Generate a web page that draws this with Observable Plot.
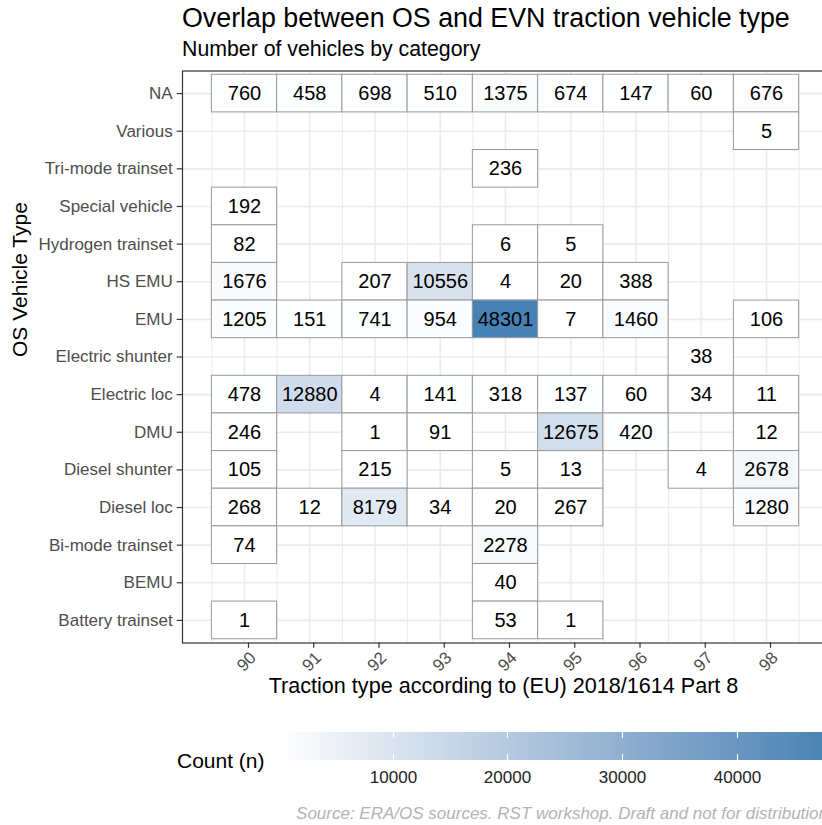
<!DOCTYPE html>
<html>
<head>
<meta charset="utf-8">
<script src="https://cdn.jsdelivr.net/npm/d3@7"></script>
<script src="https://cdn.jsdelivr.net/npm/@observablehq/plot@0.6"></script>
<style>
html, body { margin: 0; padding: 0; background: #fff; overflow: hidden; }
#wrap { position: relative; width: 822px; height: 825px; overflow: hidden; background: #fff;
  font-family: "Liberation Sans", Arial, Helvetica, sans-serif; }
#wrap svg { max-width: none !important; }
.abs { position: absolute; white-space: nowrap; line-height: 1; }
#title { left: 182px; top: 4.5px; font-size: 26.8px; color: #000; }
#subtitle { left: 182px; top: 39px; font-size: 21.3px; color: #000; }
#main { position: absolute; left: 0; top: 0; }
#legtitle { left: 177px; top: 750px; font-size: 21px; color: #000; }
#legend { position: absolute; left: 278px; top: 732px; width: 560px; }
#legend svg { font: 17px "Liberation Sans", Arial, sans-serif; color: #222; overflow: visible; }
#legend svg .tick line { stroke: #fff; stroke-width: 1.2; stroke-dasharray: 6 16 6 100; }
#caption { right: -6px; top: 805px; font-size: 17px; font-style: italic; color: #b3b3b3; }
</style>
</head>
<body>
<div id="wrap">
  <div id="main"></div>
  <div id="title" class="abs">Overlap between OS and EVN traction vehicle type</div>
  <div id="subtitle" class="abs">Number of vehicles by category</div>
  <div id="legtitle" class="abs">Count (n)</div>
  <div id="legend"></div>
  <div id="caption" class="abs">Source: ERA/OS sources. RST workshop. Draft and not for distribution</div>
</div>
<script>
// Rows (top to bottom) and traction type codes (columns)
const categories = ["NA", "Various", "Tri-mode trainset", "Special vehicle", "Hydrogen trainset",
  "HS EMU", "EMU", "Electric shunter", "Electric loc", "DMU", "Diesel shunter", "Diesel loc",
  "Bi-mode trainset", "BEMU", "Battery trainset"];
const tractionCodes = [90, 91, 92, 93, 94, 95, 96, 97, 98];

// Counts per category, one entry per traction code (null = no vehicles)
const cNA              = [760, 458, 698, 510, 1375, 674, 147, 60, 676];
const cVarious         = [null, null, null, null, null, null, null, null, 5];
const cTriMode         = [null, null, null, null, 236, null, null, null, null];
const cSpecial         = [192, null, null, null, null, null, null, null, null];
const cHydrogen        = [82, null, null, null, 6, 5, null, null, null];
const cHSEMU           = [1676, null, 207, 10556, 4, 20, 388, null, null];
const cEMU             = [1205, 151, 741, 954, 48301, 7, 1460, null, 106];
const cElecShunter     = [null, null, null, null, null, null, null, 38, null];
const cElecLoc         = [478, 12880, 4, 141, 318, 137, 60, 34, 11];
const cDMU             = [246, null, 1, 91, null, 12675, 420, null, 12];
const cDieselShunter   = [105, null, 215, null, 5, 13, null, 4, 2678];
const cDieselLoc       = [268, 12, 8179, 34, 20, 267, null, null, 1280];
const cBiMode          = [74, null, null, null, 2278, null, null, null, null];
const cBEMU            = [null, null, null, null, 40, null, null, null, null];
const cBattery         = [1, null, null, null, 53, 1, null, null, null];

const countsByCategory = [cNA, cVarious, cTriMode, cSpecial, cHydrogen, cHSEMU, cEMU,
  cElecShunter, cElecLoc, cDMU, cDieselShunter, cDieselLoc, cBiMode, cBEMU, cBattery];

const legendTicks = [10000, 20000, 30000, 40000];

const xTitle = "Traction type according to (EU) 2018/1614 Part 8";
const yTitle = "OS Vehicle Type";

// Long-form table
const cells = [];
categories.forEach((cat, i) => {
  countsByCategory[i].forEach((n, j) => {
    if (n != null) cells.push({category: cat, code: tractionCodes[j], n});
  });
});

const minorTicks = tractionCodes.map(c => c - 0.5).concat([tractionCodes[tractionCodes.length - 1] + 0.5]);
const xLo = tractionCodes[0] - 0.5, xHi = tractionCodes[tractionCodes.length - 1] + 0.5;
const xPad = (xHi - xLo) * 0.05;

const colorOpts = {
  type: "linear",
  domain: d3.extent(cells, d => d.n),
  range: ["white", "steelblue"],
  interpolate: "lab"
};

const W = 840, H = 712, panelTop = 70.5, panelBottom = 642.5;

const chart = Plot.plot({
  width: W, height: H,
  marginLeft: 182, marginRight: 12, marginTop: panelTop, marginBottom: H - panelBottom,
  style: {fontFamily: "'Liberation Sans', Arial, sans-serif", background: "white", overflow: "visible", maxWidth: "none"},
  x: {domain: [xLo - xPad, xHi + xPad]},
  y: {type: "band", domain: categories, paddingInner: 0, paddingOuter: 0.1, round: false},
  color: colorOpts,
  marks: [
    Plot.gridX(minorTicks, {stroke: "#ebebeb", strokeOpacity: 1, strokeWidth: 1}),
    Plot.gridX(tractionCodes, {stroke: "#ebebeb", strokeOpacity: 1, strokeWidth: 1.6}),
    Plot.gridY({stroke: "#ebebeb", strokeOpacity: 1, strokeWidth: 1.6}),
    Plot.barX(cells, {x1: d => d.code - 0.5, x2: d => d.code + 0.5, y: "category",
      fill: "n", stroke: "#999", strokeWidth: 1, inset: 0}),
    Plot.text(cells, {x: "code", y: "category", text: d => String(d.n), fontSize: 20, fill: "#000"}),
    Plot.frame({stroke: "#333", strokeWidth: 1.2}),
    Plot.axisY({tickSize: 5.3, tickPadding: 4.5, fontSize: 17, fill: "#4d4d4d", stroke: "#333",
      strokeWidth: 1.2, label: null}),
    Plot.axisX({ticks: tractionCodes, tickFormat: d => String(d), tickSize: 5.3, tickPadding: 2,
      tickRotate: -45, textAnchor: "end", lineAnchor: "top", dx: 4, fontSize: 17,
      fill: "#4d4d4d", stroke: "#333", strokeWidth: 1.2, label: null}),
    Plot.text([xTitle], {frameAnchor: "bottom", dy: 50, dx: -2, fontSize: 21.6, fill: "#000"}),
    Plot.text([yTitle], {frameAnchor: "left", dx: -162, rotate: -90, fontSize: 21, fill: "#000"})
  ]
});
document.getElementById("main").appendChild(chart);

const leg = Plot.legend({
  color: {...colorOpts, ticks: legendTicks, tickFormat: d => String(d), label: null},
  width: 554, height: 58, marginTop: 0, marginBottom: 30, marginLeft: 0, marginRight: 0,
  tickSize: 8, ticks: legendTicks, tickFormat: d => String(d), label: null,
  style: {maxWidth: "none"}
});
document.getElementById("legend").appendChild(leg);
</script>
</body>
</html>
